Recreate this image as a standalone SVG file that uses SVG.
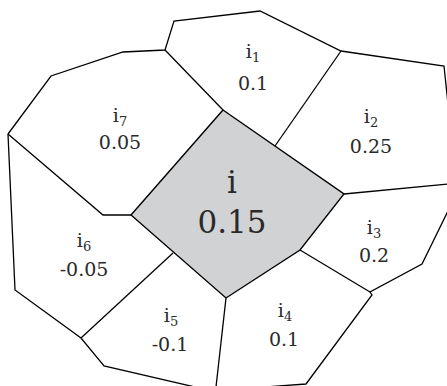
<svg xmlns="http://www.w3.org/2000/svg" width="447" height="386" viewBox="0 0 447 386">
<style>
.e{fill:none;stroke:#000;stroke-width:1.3;stroke-linejoin:miter}
text{font-family:'DejaVu Serif',serif;fill:#2a2a2a;text-anchor:middle}
.s{font-size:19px}
.b{font-size:31px}
.sub{font-size:13px}
</style>
<rect width="447" height="386" fill="#fff"/>
<g id="i">
<polygon points="223,110 344,194 300,250 226,298 131,215" fill="#d1d2d4" stroke="#000" stroke-width="1.4"/>
<text class="b" x="232" y="193">i</text>
<text class="b" x="232" y="233">0.15</text>
</g>
<g id="connectors">
<polyline class="e" points="8,134 51,76 123,52 165,50 174,21 260,11 341,51 444,66 448,104"/>
<polyline class="e" points="448,184 344,194"/>
<polyline class="e" points="448,211 422,264 370,292 372,295 306,384 265,387"/>
<polyline class="e" points="8,134 15,290 81,338 104,366 195,387"/>
<polyline class="e" points="165,50 223,110"/>
<polyline class="e" points="275,146 341,51"/>
<polyline class="e" points="131,215 103,215 8,134"/>
<polyline class="e" points="173,253 81,338"/>
<polyline class="e" points="300,250 370,292"/>
<polyline class="e" points="226,298 216,387"/>
</g>
<g id="i1"><text class="s" x="253" y="58">i<tspan class="sub" dy="4">1</tspan></text><text class="s" x="253" y="90">0.1</text></g>
<g id="i2"><text class="s" x="371" y="123">i<tspan class="sub" dy="4">2</tspan></text><text class="s" x="371" y="153">0.25</text></g>
<g id="i3"><text class="s" x="374" y="234">i<tspan class="sub" dy="4">3</tspan></text><text class="s" x="374" y="262">0.2</text></g>
<g id="i4"><text class="s" x="285" y="317">i<tspan class="sub" dy="4">4</tspan></text><text class="s" x="284" y="346">0.1</text></g>
<g id="i5"><text class="s" x="171" y="322">i<tspan class="sub" dy="4">5</tspan></text><text class="s" x="170" y="351">-0.1</text></g>
<g id="i6"><text class="s" x="84" y="247">i<tspan class="sub" dy="4">6</tspan></text><text class="s" x="84" y="276">-0.05</text></g>
<g id="i7"><text class="s" x="120" y="122">i<tspan class="sub" dy="4">7</tspan></text><text class="s" x="120" y="149">0.05</text></g>
</svg>
